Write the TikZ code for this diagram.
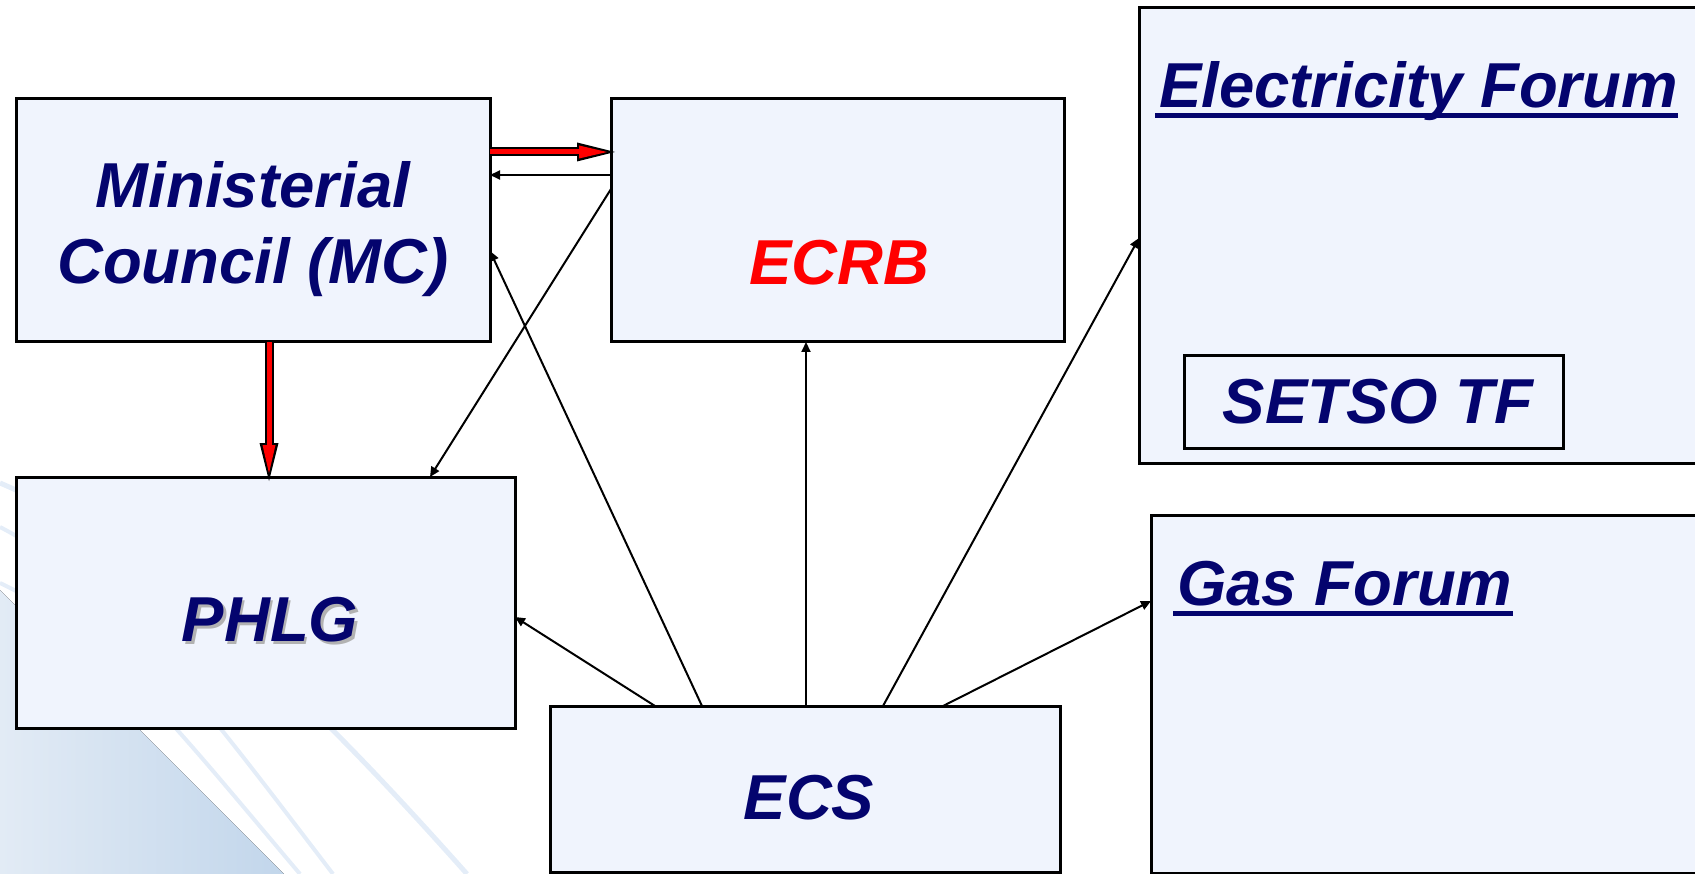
\documentclass[tikz,border=0pt]{standalone}
\usepackage{fontspec}
\setmainfont{Liberation Sans}
\usetikzlibrary{arrows.meta}

\definecolor{navy}{RGB}{4,4,110}
\definecolor{boxfill}{RGB}{240,244,253}
\definecolor{slideblue}{RGB}{194,214,235}
\definecolor{slidepale}{RGB}{226,235,245}
\definecolor{arcblue}{RGB}{228,237,248}

\tikzset{
	box/.style={draw, line width=3pt, fill=boxfill, anchor=north west, inner sep=0pt, outer sep=0pt},
	title/.style={text=navy, font=\fontsize{63.5}{76}\selectfont\bfseries\itshape, inner sep=0pt, align=center},
	link/.style={line width=2pt, -{Triangle[length=10pt,width=9pt]}},
	redlink/.style={line width=9pt, shorten >=-4pt, -{Triangle[length=38pt,width=19pt,line width=0pt]}},
	redcore/.style={line width=5pt, red, shorten >=4pt, -{Triangle[length=28pt,width=13pt,line width=0pt]}},
}

\begin{document}
\begin{tikzpicture}[x=1pt,y=-1pt]
	\useasboundingbox (0,0) rectangle (1695,874);
	\clip (0,0) rectangle (1695,874);
	
	% slide background
	\fill [left color=slidepale, right color=slideblue] (0,590)--(284,874)--(0,874)--cycle;
	\draw [arcblue, line width=5pt] (0,483) .. controls (170,555) and (330,720) .. (467,874);
	\draw [arcblue, line width=4pt] (0,527) .. controls (120,590) and (200,700) .. (333,874);
	\draw [arcblue, line width=4pt] (0,583) .. controls (100,630) and (170,720) .. (300,874);
	
	% boxes
	\node [box, minimum width=474pt, minimum height=243pt] (mc) at (16,99) {};
	\node [box, minimum width=453pt, minimum height=243pt] (ecrb) at (611,99) {};
	\node [box, minimum width=575pt, minimum height=455pt] (ef) at (1139,8) {};
	\node [box, minimum width=379pt, minimum height=92pt] (setso) at (1184,356) {};
	\node [box, minimum width=499pt, minimum height=251pt] (phlg) at (16,477) {};
	\node [box, minimum width=510pt, minimum height=166pt] (ecs) at (550,706) {};
	\node [box, minimum width=565pt, minimum height=358pt] (gf) at (1151,515) {};
	
	% texts
	\node [title] (mctext) at (253,229) {Ministerial\\Council (MC)};
	\node [title, text=red] (ecrbtext) at (839,263) {ECRB};
	\node [title, text=black!30] (phlgshadow) at (272.5,622.5) {PHLG};
	\node [title] (phlgtext) at (270,620) {PHLG};
	\node [title] (ecstext) at (809,798) {ECS};
	\node [title] (setsotext) at (1378,402) {SETSO TF};
	\node [title, anchor=base west] (eftext) at (1159,108) {Electricity Forum};
	\node [title, anchor=base west] (gftext) at (1177,605) {Gas Forum};
	\draw [navy, line width=5pt] ([xshift=-4pt,yshift=-8pt]eftext.base west)--([yshift=-8pt]eftext.base east);
	\draw [navy, line width=5pt] ([xshift=-4pt,yshift=-8pt]gftext.base west)--([yshift=-8pt]gftext.base east);
	
	% red arrows
	\draw [redlink] ([yshift=-53pt]mc.north east)--([yshift=-53pt]ecrb.north west);
	\draw [redcore] ([yshift=-53pt]mc.north east)--([yshift=-53pt]ecrb.north west);
	\draw [redlink] ([xshift=253pt]mc.south west)--([xshift=253pt]phlg.north west);
	\draw [redcore] ([xshift=253pt]mc.south west)--([xshift=253pt]phlg.north west);
	
	% thin arrows
	\draw [link] ([yshift=-76pt]ecrb.north west)--([yshift=-76pt]mc.north east);
	\draw [link] ([yshift=-90pt]ecrb.north west)--([xshift=414pt]phlg.north west);
	\draw [link] ([xshift=152pt]ecs.north west)--([yshift=-152pt]mc.north east);
	\draw [link] ([xshift=256pt]ecs.north west)--([xshift=195pt]ecrb.south west);
	\draw [link] ([xshift=105pt]ecs.north west)--([yshift=-140pt]phlg.north east);
	\draw [link] ([xshift=333pt]ecs.north west)--([yshift=-230pt]ef.north west);
	\draw [link] ([xshift=393pt]ecs.north west)--([yshift=-86pt]gf.north west);
\end{tikzpicture}
\end{document}
